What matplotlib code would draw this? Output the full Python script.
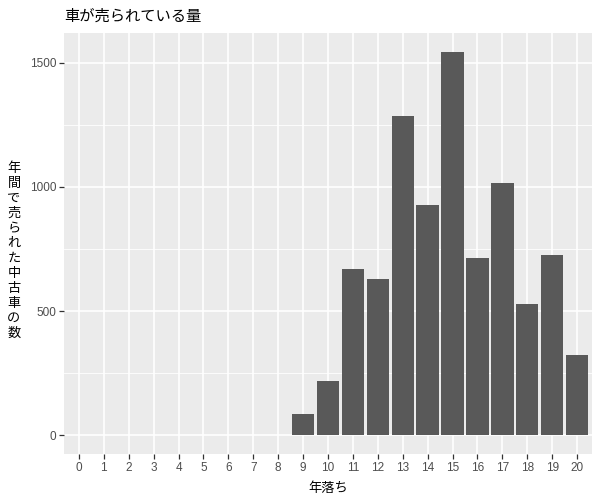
import matplotlib
matplotlib.use("Agg")
import matplotlib.pyplot as plt
import numpy as np

ages = list(range(0, 21))
counts = [0, 0, 0, 0, 0, 0, 0, 0, 0, 85, 217, 668, 628, 1284, 926, 1542, 712, 1014, 527, 725, 322]
y_ticks = [0, 500, 1000, 1500]
title = "車が売られている量"
xlabel = "年落ち"
ylabel = "年間で売られた中古車の数"

jp = ["Noto Sans CJK JP", "DejaVu Sans"]
num = ["Liberation Sans", "DejaVu Sans"]

fig = plt.figure(figsize=(6, 5), dpi=100)
ax = fig.add_axes([64/600, 1-454.3/500, (592-64)/600, (454.3-33.3)/500])
ax.set_facecolor("#EBEBEB")

xs = [a for a, c in zip(ages, counts) if c > 0]
hs = [c for c in counts if c > 0]
ax.bar(xs, hs, width=0.9, color="#595959", zorder=3)

ymax = max(counts)
ax.set_xlim(-0.6, 20.6)
ax.set_ylim(-0.05*ymax, 1.05*ymax)
ax.set_xticks(ages)
ax.set_xticklabels([str(a) for a in ages], family=num, fontsize=8.5, color="#4D4D4D")
ax.set_yticks(y_ticks)
ax.set_yticklabels([str(v) for v in y_ticks], family=num, fontsize=8.5, color="#4D4D4D")
ax.set_yticks([250, 750, 1250], minor=True)
ax.tick_params(axis="both", which="major", length=3.5, width=0.9, color="#333333", pad=2)
ax.tick_params(axis="y", which="minor", length=0)
ax.grid(True, which="major", color="white", linewidth=1.2, zorder=0)
ax.grid(True, which="minor", axis="y", color="white", linewidth=0.6, zorder=0)
ax.set_axisbelow(True)
for s in ax.spines.values():
    s.set_visible(False)

fig.text(64/600, 1-16/500, title, family=jp, fontsize=11, ha="left", va="center", color="black")
fig.text(328/600, 1-488.5/500, xlabel, family=jp, fontsize=9.5, ha="center", va="center", color="black")
fig.text(14/600, 1-251/500, "\n".join(ylabel), family=jp, fontsize=9.5, ha="center", va="center",
         linespacing=1.2, color="black")

fig.savefig("out.png", dpi=100)
